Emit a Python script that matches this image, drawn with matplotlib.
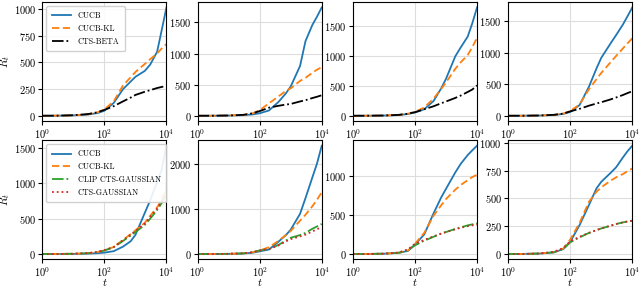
"""
Regret R_t vs t, 2x4 grid of panels
"""
import numpy as np
import matplotlib.pyplot as plt

plt.rcParams.update({
    'font.family': 'serif',
    'font.serif': ['cmr10', 'DejaVu Serif'],
    'mathtext.fontset': 'cm',
    'axes.formatter.use_mathtext': True,
    'axes.unicode_minus': False,
    'font.size': 8,
})

# time grid shared by all curves
t = [1, 3, 10, 30, 60, 100, 200, 400, 700, 1000, 2000, 3000, 5000, 7000, 10000]

# top row: CUCB, CUCB-KL, CTS-BETA
top_cucb = [
    [0, 1, 4, 12, 25, 47, 120, 250, 320, 365, 420, 480, 600, 800, 1015],
    [0, 1, 4, 10, 22, 40, 85, 220, 360, 470, 800, 1200, 1460, 1590, 1740],
    [0, 1, 4, 12, 30, 55, 110, 250, 460, 620, 1000, 1150, 1330, 1550, 1820],
    [0, 1, 4, 12, 30, 60, 170, 460, 750, 920, 1150, 1280, 1450, 1580, 1720],
]
top_kl = [
    [0, 1, 4, 14, 32, 60, 135, 285, 360, 410, 485, 530, 585, 630, 672],
    [0, 1, 4, 14, 40, 90, 200, 310, 400, 440, 560, 610, 690, 740, 780],
    [0, 1, 4, 14, 35, 65, 140, 290, 450, 560, 790, 900, 1020, 1150, 1310],
    [0, 1, 4, 14, 35, 75, 180, 420, 580, 680, 850, 950, 1070, 1150, 1230],
]
top_beta = [
    [0, 1, 5, 16, 33, 55, 90, 135, 170, 195, 225, 240, 260, 270, 281],
    [0, 1, 4, 15, 40, 75, 130, 160, 180, 190, 230, 250, 285, 305, 330],
    [0, 1, 4, 15, 35, 60, 110, 160, 210, 240, 300, 340, 400, 440, 510],
    [0, 1, 4, 15, 35, 70, 110, 160, 195, 215, 260, 290, 330, 360, 390],
]

# bottom row: CUCB, CUCB-KL, CLIP CTS-GAUSSIAN, CTS-GAUSSIAN
bot_cucb = [
    [0, 1, 2, 6, 12, 20, 40, 105, 180, 270, 580, 760, 1020, 1190, 1530],
    [0, 1, 4, 12, 30, 60, 100, 270, 420, 540, 890, 1240, 1700, 2000, 2400],
    [0, 1, 4, 15, 40, 120, 250, 520, 720, 830, 1040, 1150, 1260, 1320, 1380],
    [0, 1, 4, 15, 45, 110, 260, 440, 590, 650, 730, 780, 870, 925, 975],
]
bot_kl = [
    [0, 1, 4, 12, 28, 50, 100, 200, 280, 335, 440, 540, 660, 760, 930],
    [0, 1, 4, 15, 40, 80, 150, 290, 420, 510, 740, 870, 1060, 1200, 1370],
    [0, 1, 4, 15, 45, 130, 270, 490, 620, 700, 820, 880, 940, 980, 1010],
    [0, 1, 4, 16, 50, 130, 280, 470, 560, 600, 660, 690, 720, 745, 770],
]
bot_clip = [
    [0, 1, 4, 12, 28, 50, 95, 185, 260, 310, 410, 500, 620, 720, 850],
    [0, 1, 4, 15, 40, 80, 110, 200, 300, 360, 420, 470, 560, 610, 667],
    [0, 1, 4, 16, 50, 110, 170, 220, 260, 280, 320, 340, 365, 378, 390],
    [0, 1, 4, 16, 45, 105, 150, 190, 215, 230, 255, 270, 285, 293, 300],
]
bot_gauss = [
    [0, 1, 4, 13, 30, 55, 100, 195, 275, 325, 430, 525, 645, 745, 890],
    [0, 1, 4, 15, 40, 80, 110, 190, 280, 330, 390, 430, 500, 550, 595],
    [0, 1, 5, 20, 60, 130, 180, 225, 260, 280, 315, 335, 355, 365, 375],
    [0, 1, 5, 20, 55, 115, 155, 190, 215, 230, 255, 270, 285, 293, 300],
]

top_ticks = [[0, 250, 500, 750, 1000], [0, 500, 1000, 1500],
             [0, 500, 1000, 1500], [0, 500, 1000, 1500]]
bot_ticks = [[0, 500, 1000, 1500], [0, 1000, 2000],
             [0, 500, 1000], [0, 250, 500, 750, 1000]]

fig, axes = plt.subplots(2, 4, figsize=(6.4, 2.87), dpi=100)
fig.subplots_adjust(left=0.066, right=0.988, top=0.993, bottom=0.096,
                    wspace=0.25, hspace=0.16)

lw = 1.3
for i in range(4):
    ax = axes[0, i]
    ax.plot(t, top_cucb[i], color='C0', lw=lw, label='CUCB')
    ax.plot(t, top_kl[i], color='C1', lw=lw, ls=(0, (4, 2)), label='CUCB-KL')
    ax.plot(t, top_beta[i], color='k', lw=lw, ls='-.', label='CTS-BETA')
    ax.set_yticks(top_ticks[i])

    ax = axes[1, i]
    ax.plot(t, bot_cucb[i], color='C0', lw=lw, label='CUCB')
    ax.plot(t, bot_kl[i], color='C1', lw=lw, ls=(0, (4, 2)), label='CUCB-KL')
    ax.plot(t, bot_clip[i], color='C2', lw=lw, ls='-.', label='CLIP CTS-GAUSSIAN')
    ax.plot(t, bot_gauss[i], color='C3', lw=lw, ls=':', label='CTS-GAUSSIAN')
    ax.set_yticks(bot_ticks[i])
    ax.set_xlabel('$t$', va='center', fontsize=8)
    ax.xaxis.set_label_coords(0.5, -0.19)

for ax in axes.flat:
    ax.set_xscale('log')
    ax.set_xlim(1, 1e4)
    ax.set_xticks([1, 100, 10000])
    ax.minorticks_off()
    ax.grid(True, color='#dddddd', lw=0.8)
    ax.set_axisbelow(True)
    ax.tick_params(labelsize=7.5, pad=1.5, length=3)

for row in range(2):
    axes[row, 0].set_ylabel('$R_t$')
    axes[row, 0].yaxis.set_label_coords(-0.24, 0.5)
    axes[row, 0].legend(loc='upper left', fontsize=5.8, handlelength=2.4,
                        borderpad=0.7, labelspacing=0.55, framealpha=0.9)

fig.savefig('out.png', dpi=100)
